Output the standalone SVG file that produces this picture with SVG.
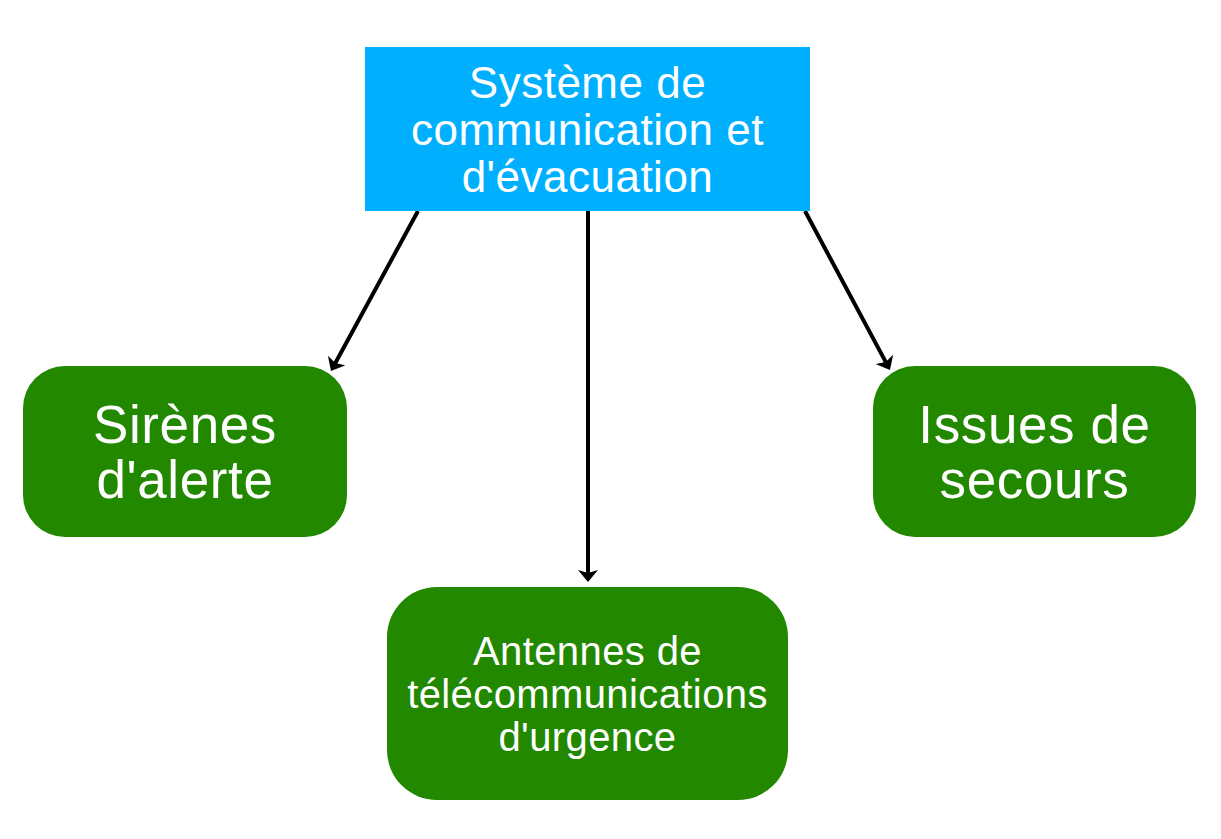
<svg xmlns="http://www.w3.org/2000/svg" width="1221" height="839" viewBox="0 0 1221 839">
<style>
.t{font-family:"Liberation Sans",Arial,sans-serif;fill:#ffffff;text-anchor:middle}
.g{fill:#228800}
.c{stroke:#000;stroke-width:4;fill:none}
</style>
<defs>
<marker id="ah" markerUnits="userSpaceOnUse" markerWidth="20" markerHeight="24" refX="4" refY="10" orient="auto">
<path d="M0,0 L12,10 L0,20 L3,10 z" fill="#000"/>
</marker>
</defs>
<rect width="1221" height="839" fill="#ffffff"/>
<g id="connectors">
<line class="c" x1="418" y1="211" x2="334.8" y2="364" marker-end="url(#ah)"/>
<line class="c" x1="588" y1="211" x2="588" y2="574" marker-end="url(#ah)"/>
<line class="c" x1="805" y1="211" x2="886.2" y2="362.9" marker-end="url(#ah)"/>
</g>
<g id="root">
<rect x="365" y="47" width="445" height="164" fill="#00B0FF"/>
<text class="t" font-size="44" letter-spacing="0.5"><tspan x="587.5" y="98">Système de</tspan><tspan x="587.5" y="145">communication et</tspan><tspan x="587.5" y="192">d'évacuation</tspan></text>
</g>
<g id="sirenes">
<rect class="g" x="23" y="366" width="324" height="171" rx="42"/>
<text class="t" font-size="53" letter-spacing="0.6"><tspan x="185" y="443">Sirènes</tspan><tspan x="185" y="498">d'alerte</tspan></text>
</g>
<g id="antennes">
<rect class="g" x="387" y="587" width="401" height="213" rx="50"/>
<text class="t" font-size="40" letter-spacing="0.4"><tspan x="587.5" y="665">Antennes de</tspan><tspan x="587.5" y="708">télécommunications</tspan><tspan x="587.5" y="751">d'urgence</tspan></text>
</g>
<g id="issues">
<rect class="g" x="873" y="366" width="323" height="171" rx="42"/>
<text class="t" font-size="53" letter-spacing="0.6"><tspan x="1034.5" y="443">Issues de</tspan><tspan x="1034.5" y="498">secours</tspan></text>
</g>
</svg>
